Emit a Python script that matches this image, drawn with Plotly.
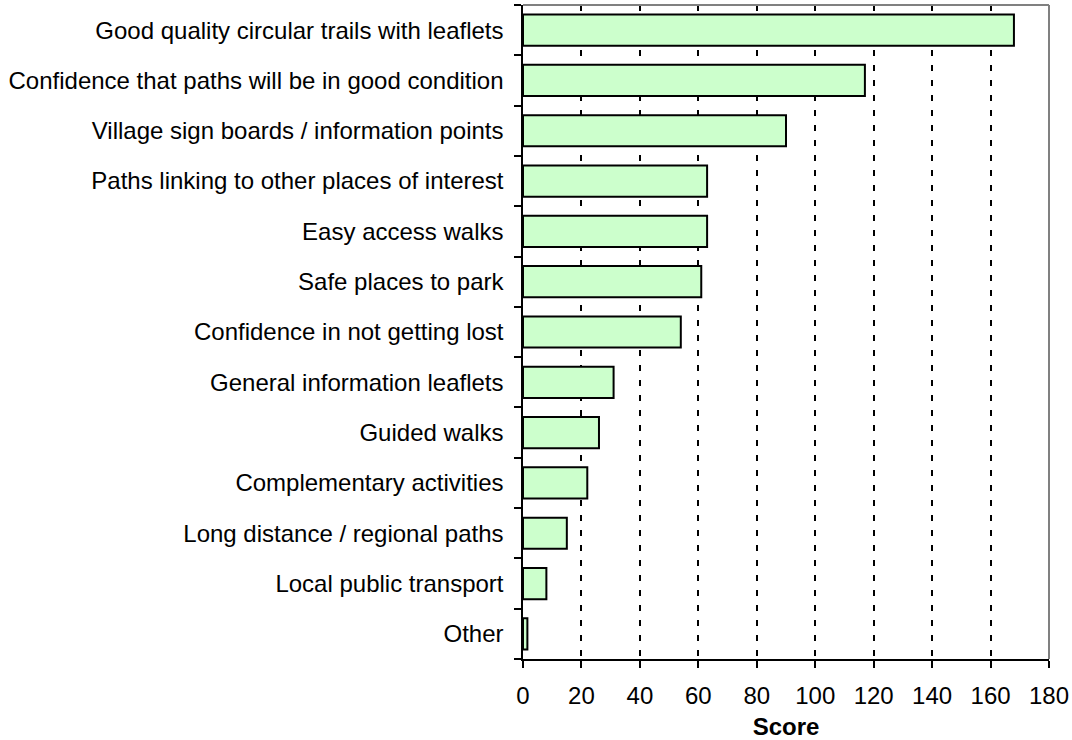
import plotly.graph_objects as go

categories = [
    "Good quality circular trails with leaflets",
    "Confidence that paths will be in good condition",
    "Village sign boards / information points",
    "Paths linking to other places of interest",
    "Easy access walks",
    "Safe places to park",
    "Confidence in not getting lost",
    "General information leaflets",
    "Guided walks",
    "Complementary activities",
    "Long distance / regional paths",
    "Local public transport",
    "Other",
]
scores = [168, 117, 90, 63, 63, 61, 54, 31, 26, 22, 15, 8, 1.5]
x_ticks = [0, 20, 40, 60, 80, 100, 120, 140, 160, 180]

fig = go.Figure(
    go.Bar(
        x=scores,
        y=categories,
        orientation="h",
        width=0.62,
        marker=dict(color="#CCFFCC", line=dict(color="black", width=2)),
        hoverinfo="skip",
    )
)

font = dict(family="Arial, 'Liberation Sans', sans-serif", size=24, color="black")

fig.update_layout(
    width=1072,
    height=740,
    paper_bgcolor="white",
    plot_bgcolor="white",
    margin=dict(l=523, r=23, t=5, b=81),
    font=font,
    showlegend=False,
    xaxis=dict(
        range=[0, 180],
        tickvals=x_ticks,
        ticks="outside",
        ticklen=7,
        tickwidth=2,
        tickcolor="black",
        ticklabelstandoff=7,
        showline=True,
        linecolor="black",
        linewidth=2,
        showgrid=True,
        gridcolor="black",
        gridwidth=2,
        griddash="6px,9px",
        zeroline=False,
        automargin=False,
        title=dict(text="<b>Score</b>", font=font, standoff=11),
        tickfont=font,
    ),
    yaxis=dict(
        categoryorder="array",
        categoryarray=categories[::-1],
        ticks="outside",
        tickson="boundaries",
        ticklen=7,
        tickwidth=2,
        tickcolor="black",
        ticklabelstandoff=6,
        showline=True,
        linecolor="black",
        linewidth=2,
        showgrid=False,
        zeroline=False,
        automargin=False,
        tickfont=font,
        ticksuffix=" ",
    ),
    shapes=[
        dict(type="line", xref="paper", yref="paper", x0=0, x1=1, y0=1, y1=1,
             line=dict(color="#808080", width=2), layer="above"),
        dict(type="line", xref="paper", yref="paper", x0=1, x1=1, y0=0, y1=1,
             line=dict(color="#808080", width=2), layer="below"),
    ],
)

fig.write_html(
    "out.html",
    config={"displayModeBar": False},
    post_script="document.body.style.margin='0';",
)
